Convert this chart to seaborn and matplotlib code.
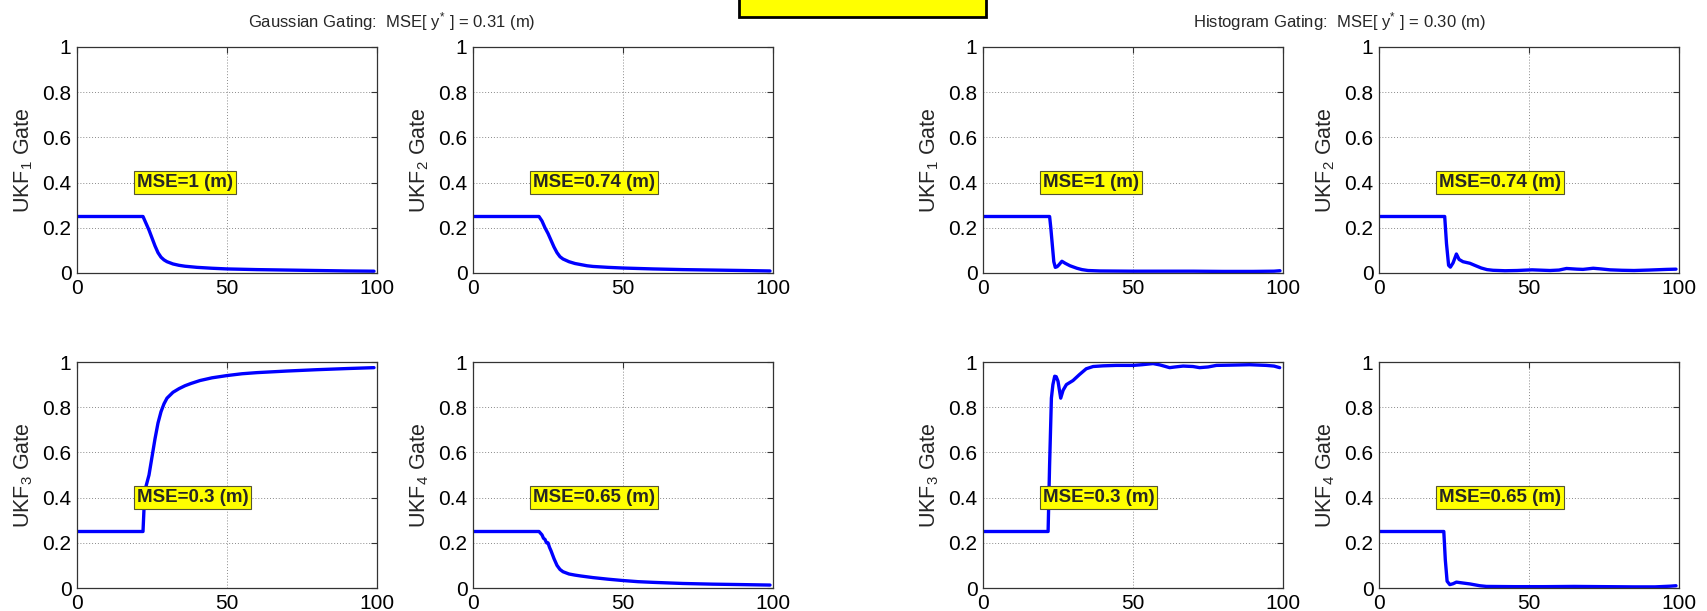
import numpy as np
import pandas as pd
import matplotlib
matplotlib.use("Agg")
import matplotlib.pyplot as plt
from matplotlib.patches import Rectangle
import seaborn as sns

# ---------------- data ----------------
g1_x = [0, 22, 23, 24, 25, 26, 27, 28, 29, 30, 32, 34, 36, 40, 45, 50, 60, 70, 80, 90, 99]
g1_y = [0.25, 0.25, 0.22, 0.19, 0.155, 0.12, 0.09, 0.07, 0.058, 0.05, 0.04, 0.034, 0.03, 0.025,
        0.021, 0.018, 0.015, 0.013, 0.011, 0.009, 0.008]

g2_x = [0, 22, 23, 24, 25, 26, 27, 28, 29, 30, 32, 34, 36, 38, 40, 45, 50, 60, 70, 80, 90, 99]
g2_y = [0.25, 0.25, 0.23, 0.2, 0.175, 0.145, 0.115, 0.09, 0.072, 0.062, 0.05, 0.042, 0.037, 0.032,
        0.029, 0.025, 0.022, 0.018, 0.015, 0.013, 0.011, 0.009]

g3_x = [0, 22, 22.5, 23, 24, 25, 26, 27, 28, 29, 30, 32, 34, 36, 38, 41, 45, 50, 55, 60, 70, 80, 90, 99]
g3_y = [0.25, 0.25, 0.4, 0.45, 0.5, 0.58, 0.66, 0.73, 0.78, 0.815, 0.84, 0.866, 0.882, 0.895, 0.905,
        0.918, 0.93, 0.94, 0.948, 0.953, 0.96, 0.966, 0.971, 0.975]

g4_x = [0, 22, 23, 23.5, 24, 24.5, 25, 25.5, 26, 27, 28, 29, 30, 32, 34, 36, 40, 45, 50, 55, 60, 70, 80, 90, 99]
g4_y = [0.25, 0.25, 0.235, 0.22, 0.215, 0.2, 0.2, 0.18, 0.165, 0.13, 0.1, 0.082, 0.072, 0.062, 0.057,
        0.053, 0.046, 0.039, 0.033, 0.028, 0.025, 0.02, 0.017, 0.015, 0.013]

h1_x = [0, 22.2, 22.6, 23, 23.6, 24.1, 24.7, 25.3, 26.3, 27.4, 29, 31.3, 33, 35, 39, 50, 60, 70, 80, 90, 97, 99]
h1_y = [0.25, 0.25, 0.2, 0.14, 0.05, 0.025, 0.028, 0.036, 0.052, 0.043, 0.032, 0.021, 0.015, 0.011,
        0.009, 0.008, 0.008, 0.008, 0.007, 0.007, 0.008, 0.01]

h2_x = [0, 21.9, 22.5, 23.2, 23.8, 24.7, 25.8, 26.7, 28, 30.3, 31.9, 34.1, 36, 38, 42, 46, 51, 57, 60,
        62.5, 66, 68, 71.4, 74, 77, 81, 85, 90, 96, 99]
h2_y = [0.25, 0.25, 0.13, 0.034, 0.026, 0.045, 0.084, 0.06, 0.05, 0.043, 0.034, 0.022, 0.015, 0.012,
        0.01, 0.011, 0.014, 0.011, 0.013, 0.02, 0.017, 0.016, 0.021, 0.018, 0.014, 0.012, 0.011, 0.013,
        0.016, 0.017]

h3_x = [0, 21.7, 22.2, 22.8, 23.3, 23.9, 24.4, 25, 25.9, 26.7, 27.8, 30, 32.2, 34.4, 36.7, 40, 44.4, 50,
        53, 56.7, 59, 62.2, 64, 66.7, 70, 72.2, 75, 77.8, 82, 88.9, 94.4, 97, 98.9]
h3_y = [0.25, 0.25, 0.545, 0.84, 0.9, 0.937, 0.935, 0.915, 0.84, 0.875, 0.9, 0.918, 0.945, 0.97, 0.98,
        0.983, 0.985, 0.985, 0.988, 0.993, 0.987, 0.975, 0.978, 0.982, 0.98, 0.975, 0.978, 0.985,
        0.986, 0.988, 0.985, 0.982, 0.975]

h4_x = [0, 21.6, 22.1, 22.7, 23.6, 24.7, 25.8, 28, 30.3, 33.6, 35.8, 45, 55, 65, 75, 85, 92, 97, 99]
h4_y = [0.25, 0.25, 0.125, 0.03, 0.015, 0.019, 0.026, 0.022, 0.018, 0.01, 0.007, 0.006, 0.006, 0.007,
        0.006, 0.005, 0.005, 0.008, 0.01]

ylabels = [r"UKF$_1$ Gate", r"UKF$_2$ Gate", r"UKF$_3$ Gate", r"UKF$_4$ Gate"]
mse_labels = ["MSE=1 (m)", "MSE=0.74 (m)", "MSE=0.3 (m)", "MSE=0.65 (m)"]
titles = [r"Gaussian Gating:  MSE[ y$^{*}$ ] = 0.31 (m)",
          r"Histogram Gating:  MSE[ y$^{*}$ ] = 0.30 (m)"]
x_ticks = [0, 50, 100]
y_ticks = [0, 0.2, 0.4, 0.6, 0.8, 1]
y_ticklabels = ["0", "0.2", "0.4", "0.6", "0.8", "1"]

# ---------------- style ----------------
sns.set_style("white")
plt.rcParams["font.family"] = ["Liberation Sans", "DejaVu Sans"]
plt.rcParams["mathtext.fontset"] = "custom"
plt.rcParams["mathtext.rm"] = "Liberation Sans"
plt.rcParams["mathtext.it"] = "Liberation Sans"
plt.rcParams["mathtext.bf"] = "Liberation Sans:bold"

W, H = 1708, 611
fig = plt.figure(figsize=(W / 100, H / 100), dpi=100)
fig.patch.set_facecolor("white")

col_left = [77, 473, 983, 1379]
row_top = [47, 362]
ax_w, ax_h = 300, 226

series = {
    (0, 0): (g1_x, g1_y), (0, 1): (g2_x, g2_y), (1, 0): (g3_x, g3_y), (1, 1): (g4_x, g4_y),
    (0, 2): (h1_x, h1_y), (0, 3): (h2_x, h2_y), (1, 2): (h3_x, h3_y), (1, 3): (h4_x, h4_y),
}

axcol = "#333333"
for (r, c), (xs, ys) in series.items():
    left = col_left[c] / W
    bottom = 1 - (row_top[r] + ax_h) / H
    ax = fig.add_axes([left, bottom, ax_w / W, ax_h / H])
    df = pd.DataFrame({"x": xs, "y": ys})
    sns.lineplot(data=df, x="x", y="y", ax=ax, color=(0, 0, 1), lw=2.4, estimator=None, sort=False)
    ax.set_xlim(0, 100)
    ax.set_ylim(0, 1)
    ax.set_xticks(x_ticks)
    ax.set_xticklabels([str(t) for t in x_ticks])
    ax.set_yticks(y_ticks)
    ax.set_yticklabels(y_ticklabels)
    ax.grid(True, linestyle=(0, (1, 2)), color="#8a8a8a", lw=0.7)
    ax.tick_params(direction="in", length=4, width=0.8, colors=axcol, labelcolor="black",
                   labelsize=15, top=True, right=True, pad=4)
    for sp in ax.spines.values():
        sp.set_visible(True)
        sp.set_color(axcol)
        sp.set_linewidth(0.9)
    idx = 2 * r + (c % 2)
    ax.set_xlabel("")
    ax.set_ylabel(ylabels[idx], fontsize=15.5, labelpad=5)
    ax.text(20, 0.4, mse_labels[idx], fontsize=13.5, fontweight="bold", ha="left", va="center",
            bbox=dict(boxstyle="square,pad=0.15", facecolor=(1, 1, 0), edgecolor="#555533", lw=0.8),
            zorder=5)

fig.text(392 / W, 1 - 27 / H, titles[0], ha="center", va="baseline", fontsize=12)
fig.text(1340 / W, 1 - 27 / H, titles[1], ha="center", va="baseline", fontsize=12)

# yellow box at top centre (clipped at figure edge)
fig.patches.append(Rectangle((739 / W, 1 - 17 / H), 247 / W, 40 / H, transform=fig.transFigure,
                             facecolor=(1, 1, 0), edgecolor="black", lw=2, clip_on=False))

fig.savefig("out.png", dpi=100)
